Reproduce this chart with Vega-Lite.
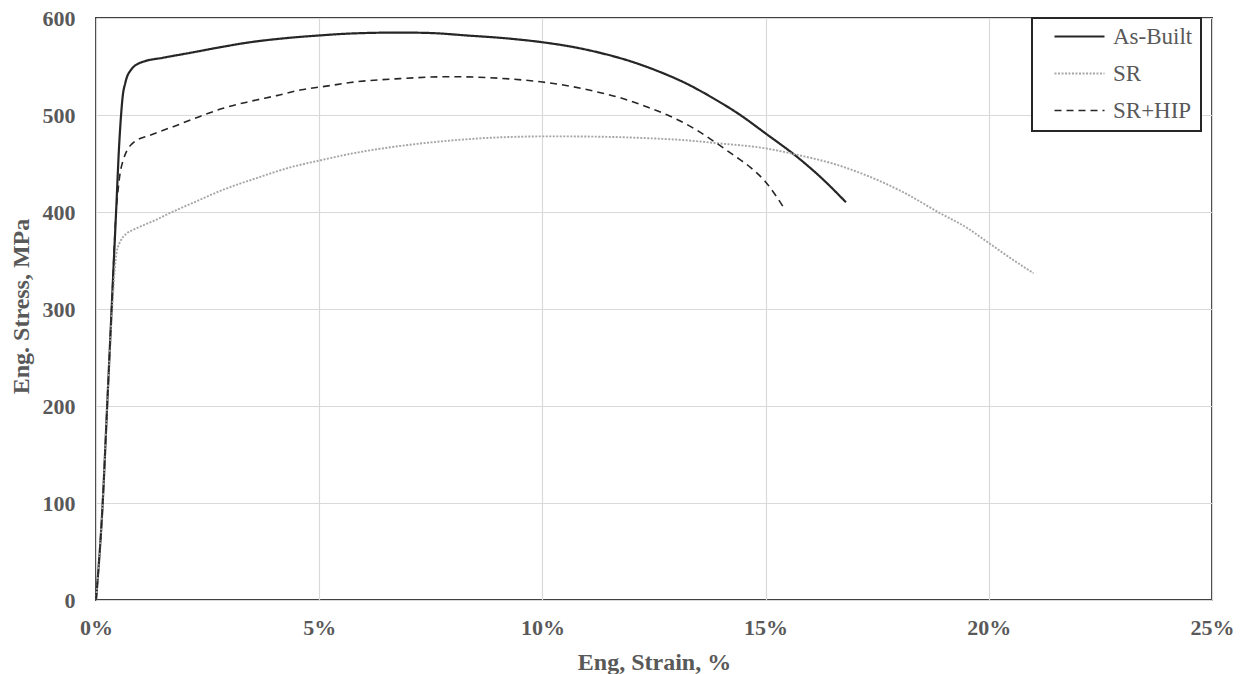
{
  "$schema": "https://vega.github.io/schema/vega-lite/v6.json",
  "autosize": "none",
  "width": 1116,
  "height": 582,
  "padding": {"left": 96, "top": 18, "right": 32, "bottom": 74},
  "background": "white",
  "config": {
    "view": {"stroke": "#404040", "strokeWidth": 2},
    "font": "Liberation Serif"
  },
  "data": {
    "values": [
      {"series": "As-Built", "strain": 0, "stress": 0},
      {"series": "As-Built", "strain": 0.15, "stress": 100},
      {"series": "As-Built", "strain": 0.25, "stress": 200},
      {"series": "As-Built", "strain": 0.35, "stress": 300},
      {"series": "As-Built", "strain": 0.45, "stress": 400},
      {"series": "As-Built", "strain": 0.52, "stress": 470},
      {"series": "As-Built", "strain": 0.57, "stress": 505},
      {"series": "As-Built", "strain": 0.6, "stress": 520},
      {"series": "As-Built", "strain": 0.65, "stress": 532},
      {"series": "As-Built", "strain": 0.7, "stress": 540},
      {"series": "As-Built", "strain": 0.76, "stress": 545},
      {"series": "As-Built", "strain": 0.85, "stress": 550},
      {"series": "As-Built", "strain": 0.95, "stress": 553},
      {"series": "As-Built", "strain": 1.06, "stress": 555},
      {"series": "As-Built", "strain": 1.5, "stress": 559},
      {"series": "As-Built", "strain": 2.1, "stress": 564},
      {"series": "As-Built", "strain": 2.8, "stress": 570},
      {"series": "As-Built", "strain": 3.45, "stress": 575},
      {"series": "As-Built", "strain": 4.2, "stress": 579},
      {"series": "As-Built", "strain": 5.0, "stress": 582},
      {"series": "As-Built", "strain": 5.7, "stress": 584},
      {"series": "As-Built", "strain": 6.8, "stress": 585},
      {"series": "As-Built", "strain": 7.5, "stress": 584.5},
      {"series": "As-Built", "strain": 8.3, "stress": 582},
      {"series": "As-Built", "strain": 9.2, "stress": 579},
      {"series": "As-Built", "strain": 10.0, "stress": 575},
      {"series": "As-Built", "strain": 10.7, "stress": 570},
      {"series": "As-Built", "strain": 11.3, "stress": 564},
      {"series": "As-Built", "strain": 12.0, "stress": 555},
      {"series": "As-Built", "strain": 12.6, "stress": 545},
      {"series": "As-Built", "strain": 13.2, "stress": 533},
      {"series": "As-Built", "strain": 13.8, "stress": 518},
      {"series": "As-Built", "strain": 14.4, "stress": 501},
      {"series": "As-Built", "strain": 15.0, "stress": 481},
      {"series": "As-Built", "strain": 15.7, "stress": 457},
      {"series": "As-Built", "strain": 16.3, "stress": 433},
      {"series": "As-Built", "strain": 16.8, "stress": 410},
      {"series": "SR", "strain": 0, "stress": 0},
      {"series": "SR", "strain": 0.15, "stress": 100},
      {"series": "SR", "strain": 0.25, "stress": 200},
      {"series": "SR", "strain": 0.35, "stress": 290},
      {"series": "SR", "strain": 0.42, "stress": 340},
      {"series": "SR", "strain": 0.46, "stress": 358},
      {"series": "SR", "strain": 0.55, "stress": 370},
      {"series": "SR", "strain": 0.69, "stress": 378},
      {"series": "SR", "strain": 0.85, "stress": 382},
      {"series": "SR", "strain": 0.99, "stress": 385},
      {"series": "SR", "strain": 1.3, "stress": 391},
      {"series": "SR", "strain": 1.66, "stress": 399},
      {"series": "SR", "strain": 2.2, "stress": 410},
      {"series": "SR", "strain": 2.85, "stress": 423},
      {"series": "SR", "strain": 3.6, "stress": 435},
      {"series": "SR", "strain": 4.35, "stress": 446},
      {"series": "SR", "strain": 5.0, "stress": 453},
      {"series": "SR", "strain": 5.7, "stress": 460},
      {"series": "SR", "strain": 6.8, "stress": 468},
      {"series": "SR", "strain": 7.9, "stress": 473.5},
      {"series": "SR", "strain": 9.06, "stress": 477},
      {"series": "SR", "strain": 10.2, "stress": 478},
      {"series": "SR", "strain": 11.3, "stress": 477.6},
      {"series": "SR", "strain": 12.4, "stress": 476},
      {"series": "SR", "strain": 13.2, "stress": 474},
      {"series": "SR", "strain": 13.9, "stress": 471},
      {"series": "SR", "strain": 15.0, "stress": 465.6},
      {"series": "SR", "strain": 15.8, "stress": 458},
      {"series": "SR", "strain": 16.5, "stress": 450},
      {"series": "SR", "strain": 17.3, "stress": 437},
      {"series": "SR", "strain": 18.1, "stress": 420},
      {"series": "SR", "strain": 18.9, "stress": 399},
      {"series": "SR", "strain": 19.5, "stress": 384},
      {"series": "SR", "strain": 20.0, "stress": 368},
      {"series": "SR", "strain": 20.5, "stress": 352},
      {"series": "SR", "strain": 21.0, "stress": 337},
      {"series": "SR+HIP", "strain": 0, "stress": 0},
      {"series": "SR+HIP", "strain": 0.15, "stress": 100},
      {"series": "SR+HIP", "strain": 0.25, "stress": 200},
      {"series": "SR+HIP", "strain": 0.35, "stress": 300},
      {"series": "SR+HIP", "strain": 0.45, "stress": 400},
      {"series": "SR+HIP", "strain": 0.5, "stress": 425},
      {"series": "SR+HIP", "strain": 0.54, "stress": 440},
      {"series": "SR+HIP", "strain": 0.6, "stress": 452},
      {"series": "SR+HIP", "strain": 0.69, "stress": 463},
      {"series": "SR+HIP", "strain": 0.8, "stress": 470},
      {"series": "SR+HIP", "strain": 0.91, "stress": 474},
      {"series": "SR+HIP", "strain": 1.2, "stress": 479},
      {"series": "SR+HIP", "strain": 1.73, "stress": 488},
      {"series": "SR+HIP", "strain": 2.3, "stress": 498},
      {"series": "SR+HIP", "strain": 2.85, "stress": 507},
      {"series": "SR+HIP", "strain": 3.45, "stress": 514},
      {"series": "SR+HIP", "strain": 4.05, "stress": 520},
      {"series": "SR+HIP", "strain": 4.6, "stress": 526},
      {"series": "SR+HIP", "strain": 5.2, "stress": 530},
      {"series": "SR+HIP", "strain": 5.7, "stress": 533.5},
      {"series": "SR+HIP", "strain": 6.8, "stress": 537.5},
      {"series": "SR+HIP", "strain": 7.94, "stress": 539.5},
      {"series": "SR+HIP", "strain": 9.06, "stress": 537.8},
      {"series": "SR+HIP", "strain": 10.0, "stress": 534},
      {"series": "SR+HIP", "strain": 10.7, "stress": 529},
      {"series": "SR+HIP", "strain": 11.3, "stress": 523},
      {"series": "SR+HIP", "strain": 11.8, "stress": 517},
      {"series": "SR+HIP", "strain": 12.3, "stress": 509},
      {"series": "SR+HIP", "strain": 12.8, "stress": 500},
      {"series": "SR+HIP", "strain": 13.4, "stress": 486},
      {"series": "SR+HIP", "strain": 13.9, "stress": 471},
      {"series": "SR+HIP", "strain": 14.3, "stress": 458},
      {"series": "SR+HIP", "strain": 14.66, "stress": 446},
      {"series": "SR+HIP", "strain": 15.0, "stress": 431},
      {"series": "SR+HIP", "strain": 15.4, "stress": 405}
    ]
  },
  "mark": {"type": "line", "interpolate": "monotone", "strokeCap": "butt"},
  "encoding": {
    "x": {
      "field": "strain",
      "type": "quantitative",
      "scale": {"domain": [0, 25], "nice": false, "zero": true},
      "axis": {
        "values": [0, 5, 10, 15, 20, 25],
        "labelExpr": "datum.value + '%'",
        "title": "Eng, Strain, %",
        "domain": false,
        "ticks": false,
        "grid": true,
        "gridColor": "#d9d9d9",
        "gridWidth": 1.2,
        "labelFont": "Liberation Serif",
        "labelFontWeight": "bold",
        "labelFontSize": 22,
        "labelColor": "#595959",
        "labelPadding": 17,
        "labelFlush": false,
        "titleFont": "Liberation Serif",
        "titleFontWeight": "bold",
        "titleFontSize": 24,
        "titleColor": "#595959",
        "titleBaseline": "middle",
        "titleY": 62
      }
    },
    "y": {
      "field": "stress",
      "type": "quantitative",
      "scale": {"domain": [0, 600], "nice": false},
      "axis": {
        "values": [0, 100, 200, 300, 400, 500, 600],
        "title": "Eng. Stress, MPa",
        "domain": false,
        "ticks": false,
        "grid": true,
        "gridColor": "#d9d9d9",
        "gridWidth": 1.2,
        "labelFont": "Liberation Serif",
        "labelFontWeight": "bold",
        "labelFontSize": 22,
        "labelColor": "#595959",
        "labelPadding": 21,
        "labelFlush": false,
        "titleFont": "Liberation Serif",
        "titleFontWeight": "bold",
        "titleFontSize": 24,
        "titleColor": "#595959",
        "titleBaseline": "middle",
        "titleX": -75,
        "titleY": 288
      }
    },
    "color": {
      "field": "series",
      "type": "nominal",
      "scale": {"domain": ["As-Built", "SR", "SR+HIP"], "range": ["#262626", "#a6a6a6", "#262626"]},
      "legend": {
        "title": null,
        "orient": "none",
        "legendX": 936,
        "legendY": 0,
        "direction": "vertical",
        "strokeColor": "#262626",
        "fillColor": "white",
        "padding": 8,
        "symbolType": "stroke",
        "symbolSize": 2500,
        "symbolStrokeWidth": 2,
        "symbolOffset": 13,
        "labelOffset": 7,
        "labelFont": "Liberation Serif",
        "labelFontSize": 23,
        "labelColor": "#595959",
        "labelExpr": "datum.label + '\u2002\u2002\u2002'",
        "clipHeight": 21,
        "rowPadding": 13,
        "encode": {"legend": {"update": {"strokeWidth": {"value": 2}}}}
      }
    },
    "strokeDash": {
      "field": "series",
      "type": "nominal",
      "scale": {"domain": ["As-Built", "SR", "SR+HIP"], "range": [[1, 0], [2, 1.5], [7, 5]]},
      "legend": null
    },
    "strokeWidth": {
      "field": "series",
      "type": "nominal",
      "scale": {"domain": ["As-Built", "SR", "SR+HIP"], "range": [2.2, 1.6, 2.2]},
      "legend": null
    }
  }
}
